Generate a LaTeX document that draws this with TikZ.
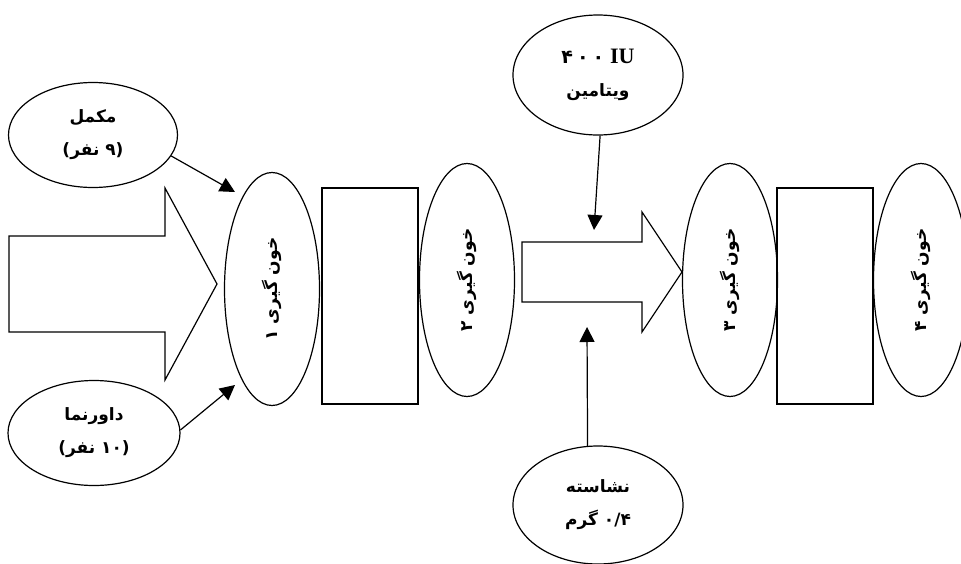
\documentclass[tikz,border=0pt]{standalone}
\usepackage{fontspec}
\usetikzlibrary{shapes.geometric,arrows.meta}
\TeXXeTstate=1
\newfontfamily\arabicfont[Script=Arabic]{DejaVu Sans}
\newfontfamily\latinfont{Liberation Serif}

\begin{document}
\begin{tikzpicture}[x=1pt,y=-1pt,line width=1.2pt,>={Triangle[length=15pt,width=15pt]},
    every node/.style={draw=black,inner sep=0pt,align=center,
      font=\arabicfont\bfseries\fontsize{17}{33}\selectfont},
    oval/.style={ellipse,minimum width=#1},
    sample/.style={ellipse,rotate=90,minimum width=233pt,minimum height=95pt},
    box/.style={rectangle,minimum width=96pt,minimum height=216pt}]
    \useasboundingbox (0,0) rectangle (961,563);

    % block arrows
    \draw (9,236) -- (165,236) -- (165,188) -- (217,284) -- (165,380) -- (165,332) -- (9,332) -- cycle;
    \draw (522,242) -- (642,242) -- (642,212) -- (682,272) -- (642,332) -- (642,302) -- (522,302) -- cycle;

    % groups and supplements
    \node[oval=169pt,minimum height=105pt] (mokamel) at (93,135) {مکمل\\\beginR(۹ نفر)\endR};
    \node[oval=172pt,minimum height=105pt] (placebo) at (94,433) {داورنما\\\beginR(۱۰ نفر)\endR};
    \node[oval=170pt,minimum height=120pt] (vitamin) at (598,75)
      {\beginR{\latinfont\fontsize{22}{33}\selectfont\beginL IU\endL}
       {\fontsize{19}{33}\selectfont\beginL ۴\kern4pt ۰\kern4pt ۰\endL}\endR\\ویتامین};
    \node[oval=170pt,minimum height=118pt] (starch) at (598,505) {نشاسته\\\beginR۰/۴ گرم\endR};

    % blood samples
    \node[sample] (s1) at (272,289) {\beginR خون گیری ۱\endR};
    \node[box] (b1) at (370,296) {};
    \node[sample] (s2) at (467,280) {\beginR خون گیری ۲\endR};
    \node[sample] (s3) at (730,280) {\beginR خون گیری ۳\endR};
    \node[box] (b2) at (825,296) {};
    \node[sample] (s4) at (921,280) {\beginR خون گیری ۴\endR};

    \coordinate (in1) at (235,192);
    \coordinate (in2) at (235,385);
    \coordinate (in3) at (594,230);
    \coordinate (in4) at (587,327);
    \draw[->] (mokamel.-15) -- (in1);
    \draw[->] (placebo.2) -- (in2);
    \draw[->] (vitamin.-88) -- (in3);
    \draw[->] (starch.100) -- (in4);
\end{tikzpicture}
\end{document}
